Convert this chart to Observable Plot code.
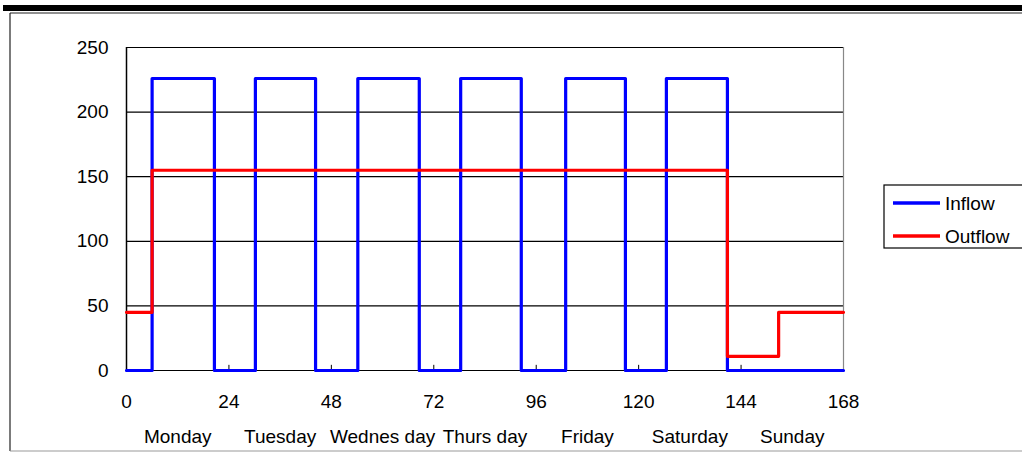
<!DOCTYPE html>
<html>
<head>
<meta charset="utf-8">
<script src="https://cdn.jsdelivr.net/npm/d3@7"></script>
<script src="https://cdn.jsdelivr.net/npm/@observablehq/plot@0.6"></script>
<style>
  html, body { margin: 0; padding: 0; background: #fff; }
  #chart { width: 1022px; height: 454px; }
</style>
</head>
<body>
<div id="chart"></div>
<script>
// ---- data ----
const inflowHours  = [0, 6, 20.6, 30.2, 44.3, 54.2, 68.6, 78.3, 92.5, 102.9, 116.9, 126.5, 140.8, 168];
const inflowValues = [0, 226, 0, 226, 0, 226, 0, 226, 0, 226, 0, 226, 0, 0];
const outflowHours  = [0, 6, 140.8, 152.8, 168];
const outflowValues = [45, 155, 11, 45, 45];
const xTicks = [0, 24, 48, 72, 96, 120, 144, 168];
const yTicks = [0, 50, 100, 150, 200, 250];
const gridValues = [50, 100, 150, 200];
const dayNames = ["Monday", "Tuesday", "Wednes day", "Thurs day", "Friday", "Saturday", "Sunday"];
const dayCenters = [12, 36, 60, 84, 108, 132, 156];
const seriesNames = ["Inflow", "Outflow"];
const seriesColors = ["#0000ff", "#ff0000"];

const inflow = inflowHours.map((h, i) => ({h, v: inflowValues[i]}));
const outflow = outflowHours.map((h, i) => ({h, v: outflowValues[i]}));
const days = dayNames.map((d, i) => ({d, x: dayCenters[i]}));

const font = "'Liberation Sans', Arial, sans-serif";

const plot = Plot.plot({
  width: 1022,
  height: 454,
  marginLeft: 126,
  marginRight: 179,
  marginTop: 47,
  marginBottom: 84,
  style: {fontFamily: font, background: "transparent", overflow: "visible"},
  x: {domain: [0, 168]},
  y: {domain: [0, 250]},
  marks: [
    Plot.ruleY(gridValues, {stroke: "#000", strokeWidth: 1.2}),
    Plot.ruleY([250], {stroke: "#000", strokeWidth: 1.2}),
    Plot.ruleY([0], {stroke: "#000", strokeWidth: 1.2}),
    Plot.ruleX([0], {stroke: "#000", strokeWidth: 1.5}),
    Plot.ruleX([168], {stroke: "#888", strokeWidth: 1.2}),
    Plot.ruleX(xTicks.slice(1, -1), {y1: 0, y2: 4, stroke: "#000", strokeWidth: 1}),
    Plot.axisY(yTicks, {tickSize: 0, tickPadding: 18, fontSize: 19, label: null, fill: "#000"}),
    Plot.axisX(xTicks, {tickSize: 0, tickPadding: 24, fontSize: 19, label: null, fill: "#000"}),
    Plot.text(days, {x: "x", text: "d", frameAnchor: "bottom", dy: 72, fontSize: 19, fill: "#000"}),
    Plot.line(inflow, {x: "h", y: "v", curve: "step-after", stroke: seriesColors[0], strokeWidth: 3.2}),
    Plot.line(outflow, {x: "h", y: "v", curve: "step-after", stroke: seriesColors[1], strokeWidth: 3.2})
  ]
});

document.getElementById("chart").appendChild(plot);

// decorative border and legend
const svg = d3.select(plot);
const deco = svg.insert("g", ":first-child");
deco.append("rect").attr("x", 3).attr("y", 5).attr("width", 1019).attr("height", 6).attr("fill", "#000");
deco.append("line").attr("x1", 10).attr("x2", 1022).attr("y1", 13).attr("y2", 13).attr("stroke", "#222").attr("stroke-width", 1.2);
deco.append("line").attr("x1", 10).attr("x2", 10).attr("y1", 13).attr("y2", 451).attr("stroke", "#222").attr("stroke-width", 1.2);
deco.append("line").attr("x1", 10).attr("x2", 1022).attr("y1", 451).attr("y2", 451).attr("stroke", "#999").attr("stroke-width", 1.2);

const leg = svg.append("g").attr("text-anchor", "start");
leg.append("rect").attr("x", 884).attr("y", 185).attr("width", 150).attr("height", 63)
  .attr("fill", "#fff").attr("stroke", "#000").attr("stroke-width", 1.2);
seriesNames.forEach((name, i) => {
  const y = 203 + i * 33;
  leg.append("line").attr("x1", 893).attr("x2", 940).attr("y1", y).attr("y2", y)
    .attr("stroke", seriesColors[i]).attr("stroke-width", 3.5);
  leg.append("text").attr("x", 945).attr("y", y).attr("dy", "0.35em").attr("text-anchor", "start")
    .attr("font-family", font).attr("font-size", 19).attr("fill", "#000").text(name);
});
</script>
</body>
</html>
